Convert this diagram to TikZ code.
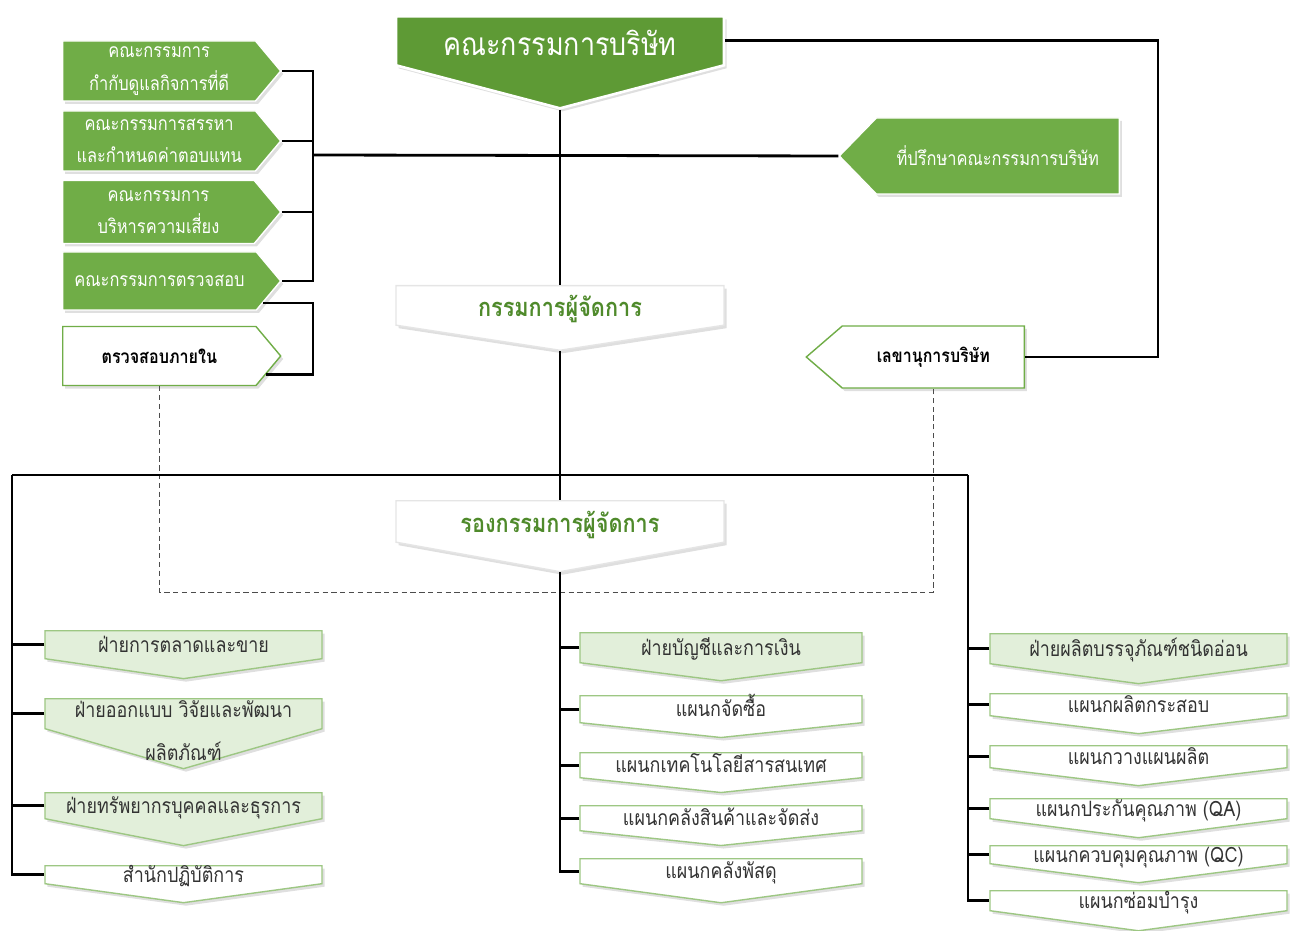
\documentclass[tikz,border=0pt]{standalone}
\usepackage{fontspec}
\newfontfamily\thaifont[Script=Thai,FakeStretch=0.85]{Loma}
\usetikzlibrary{shapes.symbols,shadows}

\definecolor{boardgreen}{HTML}{5E9A35}
\definecolor{comgreen}{HTML}{70AD47}
\definecolor{palegreen}{HTML}{E2EFDA}
\definecolor{rimgreen}{HTML}{9DC783}
\definecolor{textgreen}{HTML}{4F8A2B}
\definecolor{textgray}{HTML}{333333}

\begin{document}
\begin{tikzpicture}[x=0.2mm,y=-0.2mm,line width=1.6pt,
    every node/.style={font=\thaifont,line width=0.8pt},
    shade box/.style={drop shadow={opacity=0.25,shadow xshift=0.5mm,shadow yshift=-0.6mm}},
    down node/.style={signal,signal to=south,signal pointer angle=#1,anchor=north,inner xsep=0pt,align=center,shade box},
    down node/.default=165,
    board node/.style={down node=150.6,fill=boardgreen,draw=white,line width=1.5pt,text=white,minimum width=65.6mm,text height=6mm,text depth=-1.4mm,inner ysep=1.9mm,font=\thaifont\fontsize{18}{20}\selectfont},
    head node/.style={down node=#1,fill=white,draw=black!10,text=textgreen,minimum width=65.6mm,text height=4.5mm,text depth=-0.9mm,font=\thaifont\bfseries\fontsize{14.5}{16}\selectfont},
    com node/.style={signal,signal to=east,signal pointer angle=100,anchor=west,align=center,inner sep=0pt,minimum width=43.6mm,minimum height=12mm,fill=comgreen,draw=white,text=white,shade box,font=\thaifont\fontsize{11}{18.5}\selectfont},
    audit node/.style={com node,fill=white,draw=comgreen,text=black,font=\thaifont\bfseries\fontsize{10.8}{12}\selectfont},
    adv node/.style={signal,signal to=west,signal pointer angle=#1,anchor=east,inner sep=0pt,fill=comgreen,draw=white,text=white,shade box,font=\thaifont\fontsize{11}{12}\selectfont},
    sec node/.style={adv node=#1,fill=white,draw=comgreen,text=black,font=\thaifont\bfseries\fontsize{10.7}{12}\selectfont},
    unit node/.style={down node=#1,fill=white,draw=rimgreen,text=textgray,text height=3mm,text depth=0mm,font=\thaifont\fontsize{12}{15}\selectfont},
    unit node/.default=166,
    div node/.style={unit node=#1,fill=palegreen},
    div node/.default=164,
    dash line/.style={densely dashed,line width=0.5pt,black!70}]

  \useasboundingbox (0,0) rectangle (1295,931);

  % board level
  \node[board node] (board) at (560,15) {คณะกรรมการบริษัท};
  \node[com node] (c1) at (62,71) {คณะกรรมการ\\กำกับดูแลกิจการที่ดี};
  \node[com node] (c2) at (62,141) {คณะกรรมการสรรหา\\และกำหนดค่าตอบแทน};
  \node[com node,minimum height=12.6mm] (c3) at (62,212) {คณะกรรมการ\\บริหารความเสี่ยง};
  \node[com node,minimum height=11.6mm] (c4) at (62,281) {คณะกรรมการตรวจสอบ};
  \node[audit node,minimum height=11.8mm] (audit) at (62,356) {ตรวจสอบภายใน};
  \node[adv node=91.5,minimum width=56mm,minimum height=15.2mm] (adv) at (1120,156) {ที่ปรึกษาคณะกรรมการบริษัท};
  \node[sec node=81.5,minimum width=43.6mm,minimum height=12.4mm] (sec) at (1025,357) {เลขานุการบริษัท};

  % management
  \node[head node=162.6,inner ysep=1.7mm] (mgr) at (560,285) {กรรมการผู้จัดการ};
  \node[head node=159.6,inner ysep=1.9mm] (dep) at (560,500) {รองกรรมการผู้จัดการ};

  % left column
  \begin{scope}[nodes={minimum width=55.4mm}]
    \node[div node=163.6,inner ysep=1.3mm] (L1) at (183.5,630) {ฝ่ายการตลาดและขาย};
    \node[div node=147.8,inner ysep=0mm,text height=3.8mm,text depth=2.2mm] (L2) at (183.5,698)
      {\begin{tabular}[t]{@{}c@{}}ฝ่ายออกแบบ วิจัยและพัฒนา\\[3.2mm]ผลิตภัณฑ์\end{tabular}};
    \node[div node=158,inner ysep=1.1mm] (L3) at (183.5,792) {ฝ่ายทรัพยากรบุคคลและธุรการ};
    \node[unit node=164.4,inner ysep=0.3mm] (L4) at (183.5,865) {สำนักปฏิบัติการ};
  \end{scope}

  % middle column
  \begin{scope}[nodes={minimum width=56.4mm}]
    \node[div node=165.4,inner ysep=1.5mm] (M1) at (721,632) {ฝ่ายบัญชีและการเงิน};
    \node[unit node=168,inner ysep=1.2mm] (M2) at (721,695) {แผนกจัดซื้อ};
    \node[unit node=168,inner ysep=1mm] (M3) at (721,752) {แผนกเทคโนโลยีสารสนเทศ};
    \node[unit node=168,inner ysep=1mm] (M4) at (721,805) {แผนกคลังสินค้าและจัดส่ง};
    \node[unit node=164.6,inner ysep=1mm] (M5) at (721,858) {แผนกคลังพัสดุ};
  \end{scope}

  % right column
  \begin{scope}[nodes={minimum width=59.4mm}]
    \node[div node=164.7,inner ysep=1.5mm] (R1) at (1138.5,633) {ฝ่ายผลิตบรรจุภัณฑ์ชนิดอ่อน};
    \node[unit node=166.2,inner ysep=0.7mm] (R2) at (1138.5,693) {แผนกผลิตกระสอบ};
    \node[unit node=166.2,inner ysep=0.7mm] (R3) at (1138.5,745) {แผนกวางแผนผลิต};
    \node[unit node=165.4,inner ysep=0.5mm] (R4) at (1138.5,798) {แผนกประกันคุณภาพ (QA)};
    \node[unit node=165.4,inner ysep=0.3mm] (R5) at (1138.5,845) {แผนกควบคุมคุณภาพ (QC)};
    \node[unit node=164.6,inner ysep=0.5mm] (R6) at (1138.5,890) {แผนกซ่อมบำรุง};
  \end{scope}

  % connectors
  \coordinate (bx) at (313,155);
  \coordinate (ax) at (313,340);
  \coordinate (rc) at (1158,0);
  \coordinate (lt) at (12,475);
  \coordinate (rt) at (968,475);
  \coordinate (dbot) at (0,592);

  \draw (board.south) -- (mgr.north);
  \draw (c1.east) -| (bx) |- (c4.east);
  \draw (c2.east) -- (c2.east -| bx);
  \draw (c3.east) -- (c3.east -| bx);
  \draw (bx) -- (adv.west);
  \draw (c4.-12) -| (ax) |- (audit.-10);
  \draw (board.east) -| (sec.east -| rc) -- (sec.east);
  \draw[dash line] (audit.south) |- (dbot -| sec.south) -- (sec.south);

  \draw (mgr.south) -- (dep.north);
  \draw (lt) -- (rt);
  \draw (lt) |- (L4.west);
  \draw (dep.south) |- (M5.west);
  \draw (rt) |- (R6.west);
  \foreach \n in {L1,L2,L3} \draw (\n.west) -- (\n.west -| lt);
  \foreach \n in {M1,M2,M3,M4} \draw (\n.west) -- (\n.west -| dep.south);
  \foreach \n in {R1,R2,R3,R4,R5} \draw (\n.west) -- (\n.west -| rt);
\end{tikzpicture}
\end{document}
